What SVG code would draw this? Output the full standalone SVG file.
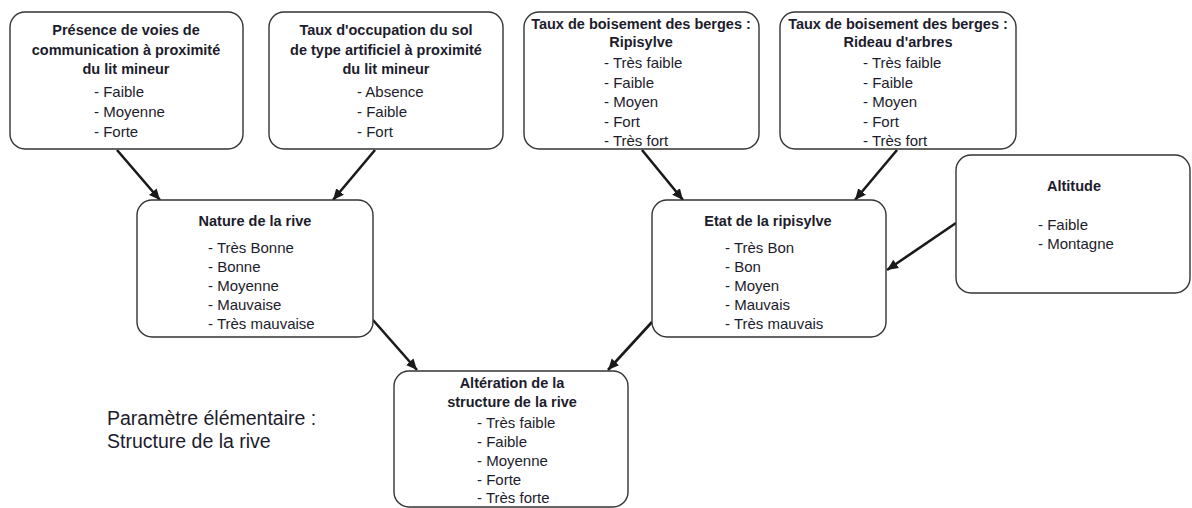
<svg xmlns="http://www.w3.org/2000/svg" width="1192" height="508" viewBox="0 0 1192 508">
<style>
.box{fill:#fff;stroke:#333;stroke-width:1.4}
.t{font-family:"Liberation Sans",Arial,sans-serif;font-size:14.5px;font-weight:bold;fill:#1c1c2c;text-anchor:middle}
.i{font-family:"Liberation Sans",Arial,sans-serif;font-size:15px;fill:#1c1c2c}
.c{stroke:#1a1a1a;stroke-width:2.6;fill:none;marker-end:url(#ah)}
.p{font-family:"Liberation Sans",Arial,sans-serif;font-size:19.5px;fill:#1c1c2c}
</style>
<defs>
<marker id="ah" markerUnits="userSpaceOnUse" markerWidth="12" markerHeight="12" viewBox="0 0 12 12" refX="11" refY="6" orient="auto">
<path d="M0,1 L11,6 L0,11 Z" fill="#1a1a1a"/>
</marker>
</defs>
<g id="connectors">
<line class="c" x1="117" y1="150" x2="160" y2="200"/>
<line class="c" x1="375" y1="150" x2="333" y2="200"/>
<line class="c" x1="642" y1="150" x2="683" y2="200"/>
<line class="c" x1="897" y1="150" x2="855" y2="200"/>
<line class="c" x1="956" y1="223" x2="887" y2="270"/>
<line class="c" x1="373" y1="320" x2="417" y2="370"/>
<line class="c" x1="652" y1="322" x2="608" y2="370"/>
</g>
<g id="n1">
<rect class="box" x="10" y="12" width="233" height="137" rx="15"/>
<text class="t" x="126" y="35">Présence de voies de</text>
<text class="t" x="126" y="55">communication à proximité</text>
<text class="t" x="126" y="74">du lit mineur</text>
<text class="i" x="94" y="97">- Faible</text>
<text class="i" x="94" y="117">- Moyenne</text>
<text class="i" x="94" y="137">- Forte</text>
</g>
<g id="n2">
<rect class="box" x="269" y="12" width="234" height="137" rx="15"/>
<text class="t" x="386" y="35">Taux d'occupation du sol</text>
<text class="t" x="386" y="55">de type artificiel à proximité</text>
<text class="t" x="386" y="74">du lit mineur</text>
<text class="i" x="357" y="97">- Absence</text>
<text class="i" x="357" y="117">- Faible</text>
<text class="i" x="357" y="137">- Fort</text>
</g>
<g id="n3">
<rect class="box" x="524" y="12" width="235" height="137" rx="15"/>
<text class="t" x="641" y="29">Taux de boisement des berges :</text>
<text class="t" x="641" y="47">Ripisylve</text>
<text class="i" x="604" y="68">- Très faible</text>
<text class="i" x="604" y="88">- Faible</text>
<text class="i" x="604" y="107">- Moyen</text>
<text class="i" x="604" y="127">- Fort</text>
<text class="i" x="604" y="146">- Très fort</text>
</g>
<g id="n4">
<rect class="box" x="780" y="12" width="236" height="137" rx="15"/>
<text class="t" x="898" y="29">Taux de boisement des berges :</text>
<text class="t" x="898" y="47">Rideau d'arbres</text>
<text class="i" x="863" y="68">- Très faible</text>
<text class="i" x="863" y="88">- Faible</text>
<text class="i" x="863" y="107">- Moyen</text>
<text class="i" x="863" y="127">- Fort</text>
<text class="i" x="863" y="146">- Très fort</text>
</g>
<g id="n5">
<rect class="box" x="956" y="155" width="234" height="138" rx="15"/>
<text class="t" x="1074" y="191">Altitude</text>
<text class="i" x="1038" y="230">- Faible</text>
<text class="i" x="1038" y="249">- Montagne</text>
</g>
<g id="n6">
<rect class="box" x="137" y="200" width="236" height="137" rx="15"/>
<text class="t" x="255" y="226">Nature de la rive</text>
<text class="i" x="208" y="253">- Très Bonne</text>
<text class="i" x="208" y="272">- Bonne</text>
<text class="i" x="208" y="291">- Moyenne</text>
<text class="i" x="208" y="310">- Mauvaise</text>
<text class="i" x="208" y="329">- Très mauvaise</text>
</g>
<g id="n7">
<rect class="box" x="652" y="200" width="234" height="137" rx="15"/>
<text class="t" x="768" y="226">Etat de la ripisylve</text>
<text class="i" x="725" y="253">- Très Bon</text>
<text class="i" x="725" y="272">- Bon</text>
<text class="i" x="725" y="291">- Moyen</text>
<text class="i" x="725" y="310">- Mauvais</text>
<text class="i" x="725" y="329">- Très mauvais</text>
</g>
<g id="n8">
<rect class="box" x="394" y="371" width="234" height="136" rx="15"/>
<text class="t" x="512" y="388">Altération de la</text>
<text class="t" x="512" y="407">structure de la rive</text>
<text class="i" x="477" y="428">- Très faible</text>
<text class="i" x="477" y="447">- Faible</text>
<text class="i" x="477" y="466">- Moyenne</text>
<text class="i" x="477" y="485">- Forte</text>
<text class="i" x="477" y="503">- Très forte</text>
</g>
<g id="label">
<text class="p" x="107" y="425">Paramètre élémentaire :</text>
<text class="p" x="107" y="448">Structure de la rive</text>
</g>
</svg>
